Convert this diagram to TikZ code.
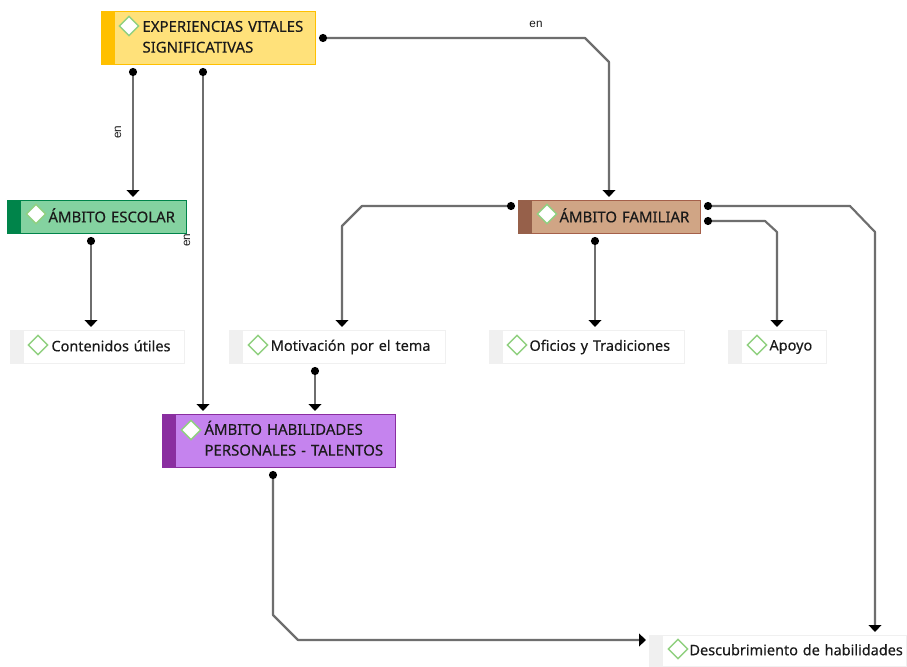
\documentclass[tikz,border=0pt]{standalone}
\usepackage{fontspec}
\setmainfont{Noto Sans}[BoldFont={Noto Sans},BoldFeatures={FakeBold=0.25}]
\newfontfamily\lblfont{Liberation Sans}
\usetikzlibrary{shapes.geometric,arrows.meta,calc}
\definecolor{txt}{HTML}{1A1A1A}
\definecolor{linec}{HTML}{6E6E6E}
\definecolor{dmd}{HTML}{90D080}
\newcommand\capsfont{\fontsize{11.2pt}{15.6pt}\selectfont\bfseries}
\newcommand\lowfont{\fontsize{10.85pt}{15.6pt}\selectfont\bfseries}
\tikzset{
  x=0.75pt,y=-0.75pt,
  ubox/.style={rectangle,anchor=north west,inner sep=0pt,line width=0.75pt,text=txt,align=left},
  yellowbox/.style={ubox,fill=yfill,draw=yband,font=\capsfont},
  greenbox/.style={ubox,fill=gfill,draw=gband,font=\capsfont},
  brownbox/.style={ubox,fill=bfill,draw=bline,font=\capsfont},
  purplebox/.style={ubox,fill=pfill,draw=pband,font=\capsfont},
  plainbox/.style={ubox,fill=white,draw=nband,font=\lowfont},
  bandn/.style={rectangle,anchor=north west,inner sep=0pt,minimum width=10.5pt},
  dia/.style={diamond,aspect=1,inner sep=0pt,minimum size=15pt,fill=white,draw=dmd,line width=1.1pt},
  conn/.style={draw=linec,line width=1.6pt,line join=round,{Circle[length=6pt,black]}-{Triangle[length=5.25pt,width=9.5pt,black]},shorten <=2.25pt,shorten >=2.25pt},
  edgelbl/.style={font=\lblfont\fontsize{8.8pt}{10pt}\selectfont,text=txt,inner sep=0pt},
}
\definecolor{yfill}{HTML}{FFE17A}\definecolor{yband}{HTML}{FFC000}
\definecolor{gfill}{HTML}{84D2A0}\definecolor{gband}{HTML}{00844A}
\definecolor{bfill}{HTML}{D0A585}\definecolor{bband}{HTML}{96604A}\definecolor{bline}{HTML}{A5604A}
\definecolor{pfill}{HTML}{C583EE}\definecolor{pband}{HTML}{8A2EA0}
\definecolor{nband}{HTML}{F0F0F0}
% name, x1, y1, x2, y2, box style, diamond centre, text offset, text raise
\newcommand\ubox[9]{%
  \node[#6,minimum width={(#4-#2-1)*0.75pt},minimum height={(#5-#3-1)*0.75pt},text width={(#4-#2-1)*0.75pt}] (#1) at (#2,#3)
    {\hspace*{#8pt}\raisebox{#9pt}{\ulabel}};
  \node[bandn,fill=\ucol,minimum height={(#5-#3)*0.75pt}] (#1band) at (#2,#3) {};
  \node[dia] (#1dia) at (#7) {};
}
\begin{document}
\begin{tikzpicture}
\path[use as bounding box,fill=white] (0,0) rectangle (907,667);
\node[edgelbl] (len1) at (536,24) {en};
\node[edgelbl,rotate=90] (len2) at (118,132) {en};
\node[edgelbl,rotate=90] (len3) at (187,240) {en};

\def\ucol{yband}\def\ulabel{\begin{tabular}[c]{@{}l@{}}EXPERIENCIAS VITALES\\SIGNIFICATIVAS\end{tabular}}
\ubox{exp}{101}{11}{316}{65}{yellowbox}{129,26}{30.75}{0}
\def\ucol{gband}\def\ulabel{ÁMBITO ESCOLAR}
\ubox{esc}{7}{200}{187}{234}{greenbox}{36,214}{30.75}{2.6}
\def\ucol{nband}\def\ulabel{Contenidos útiles}
\ubox{con}{10}{330}{185}{364}{plainbox}{38,345}{30.75}{1.9}
\def\ucol{bband}\def\ulabel{ÁMBITO FAMILIAR}
\ubox{fam}{518}{200}{701}{234}{brownbox}{547,214}{30.75}{2.6}
\def\ucol{nband}\def\ulabel{Oficios y Tradiciones}
\ubox{ofi}{489}{330}{685}{364}{plainbox}{517,345}{30}{1.9}
\def\ucol{nband}\def\ulabel{Apoyo}
\ubox{apo}{728}{330}{827}{364}{plainbox}{757,345}{30.75}{1.2}
\def\ucol{nband}\def\ulabel{Motivación por el tema}
\ubox{mot}{229}{330}{446}{364}{plainbox}{258,345}{31}{1.9}
\def\ucol{pband}\def\ulabel{\begin{tabular}[c]{@{}l@{}}ÁMBITO HABILIDADES\\PERSONALES - TALENTOS\end{tabular}}
\ubox{hab}{162}{414}{396}{468}{purplebox}{191,430}{31.5}{0}
\def\ucol{nband}\def\ulabel{Descubrimiento de habilidades}
\ubox{des}{649}{635}{907}{667}{plainbox}{678,649}{30}{1.9}

\draw[conn] ($(exp.south west)+(32,0)$) -- ($(esc.north west)+(126,0)$);
\draw[conn] ($(exp.south west)+(102,0)$) -- ($(hab.north west)+(41,0)$);
\draw[conn] ($(exp.north east)+(0,27)$) -- (585,38) -- (609,62) -- ($(fam.north west)+(91,0)$);
\draw[conn] ($(esc.south west)+(84,0)$) -- ($(con.north west)+(81,0)$);
\draw[conn] ($(fam.north west)+(0,6)$) -- (362,206) -- (342,226) -- ($(mot.north west)+(113,0)$);
\draw[conn] ($(fam.south west)+(77,0)$) -- ($(ofi.north west)+(106,0)$);
\draw[conn] ($(fam.north east)+(0,21)$) -- (765,221) -- (777,232) -- ($(apo.north west)+(49,0)$);
\draw[conn] ($(fam.north east)+(0,6)$) -- (850,206) -- (875,232) -- ($(des.north west)+(226,0)$);
\draw[conn] ($(mot.south west)+(86,0)$) -- ($(hab.north west)+(153,0)$);
\draw[conn] ($(hab.south west)+(111,0)$) -- (273,615) -- (298,640) -- ($(des.north west)+(0,5)$);
\end{tikzpicture}
\end{document}
